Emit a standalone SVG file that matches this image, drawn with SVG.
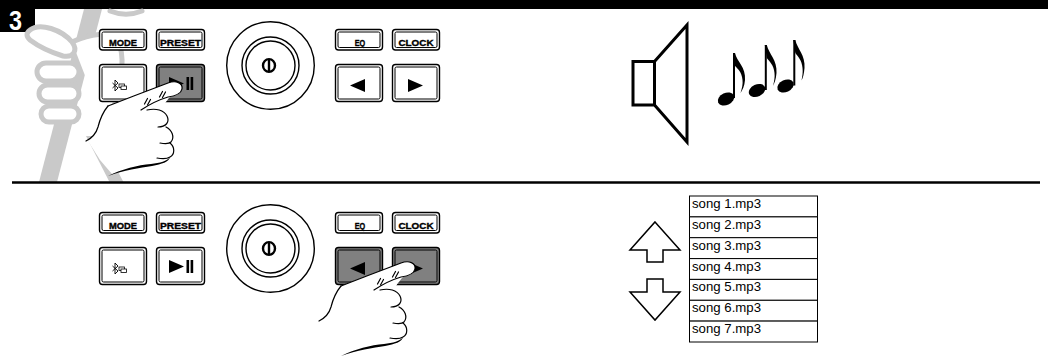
<svg xmlns="http://www.w3.org/2000/svg" xmlns:xlink="http://www.w3.org/1999/xlink" width="1048" height="359" viewBox="0 0 1048 359">
  <style>
    .bo { fill: #fff; stroke: #000; stroke-width: 1.4; }
    .bi { fill: #fff; stroke: #000; stroke-width: 1; }
    .on { fill: #808080; }
    .lbl { font-family: "Liberation Sans", Arial, sans-serif; font-weight: bold; font-size: 8.6px; text-anchor: middle; fill: #000; stroke: #000; stroke-width: 0.35; }
    .ring { fill: none; stroke: #000; stroke-width: 1.4; }
    .row { fill: #fff; stroke: #000; stroke-width: 1; }
    .song { font-family: "Liberation Sans", Arial, sans-serif; font-size: 13.5px; fill: #000; }
    .wm { fill: #fff; stroke: #c9c9c9; stroke-width: 5; stroke-linecap: round; stroke-linejoin: round; }
    .wmf { fill: #c9c9c9; }
    .hand-line { fill: none; stroke: #000; stroke-width: 1.2; stroke-linecap: round; stroke-linejoin: round; }
    .arrow { fill: #fff; stroke: #000; stroke-width: 1.5; stroke-linejoin: miter; }
  </style>
  <defs>
    <!-- pointing hand, drawn with the fingertip at (182,89) -->
    <g id="hand">
      <path fill="#fff" d="M108,106 C125,99 150,90 168,83 C176,80 183,83 182,89 C181,94 176,95 170,97 C168,99 165,103 163,106 C170,112 171,121 166,127 C172,130 175,137 171,142 C175,146 175,153 170,157 C169,162 160,165 150,166 L112,174 L100,160 L88,141 C94,137 97,131 99,124 C102,116 104,110 108,106 Z"/>
      <path class="hand-line" d="M108,106 C126,99 152,89 168,83 C176,80 183,83 182,89 C181,94 175,96 168,97 C158,100 150,104 141,110"/>
      <path class="hand-line" d="M147,110 C156,108 164,110 167,116 C170,122 166,127 158,127"/>
      <path class="hand-line" d="M166,127 C172,130 175,137 171,142 C169,144 165,144 160,143"/>
      <path class="hand-line" d="M170,143 C175,147 175,154 170,157 C167,159 162,159 157,158"/>
      <path fill="#000" d="M170,157 C169,162 162,164 152,166 C140,168 124,170 108,176 C122,169 138,165 151,164 C160,163 167,161 170,157 Z"/>
      <path class="hand-line" d="M108,106 C103,112 100,119 98,127 C96,134 92,138 86,141"/>
      <path class="hand-line" d="M144.5,104 L147.5,98.5 M147.5,105 L150.5,99.5"/>
      <path class="hand-line" d="M159.5,97 L162.5,91.5 M162.5,97.5 L165.5,92"/>
    </g>
  </defs>

  <!-- heading bar and step number -->
  <g id="header">
    <rect x="0" y="0" width="1048" height="9" fill="#000"/>
    <rect x="0" y="0" width="35" height="32" fill="#000"/>
    <text x="15.5" y="30" font-family="Liberation Sans, Arial, sans-serif" font-weight="bold" font-size="27" fill="#fff" text-anchor="middle" textLength="13" lengthAdjust="spacingAndGlyphs">3</text>
  </g>

  <!-- faded fist holding a stick behind the first panel -->
  <g id="watermark">
    <polygon class="wmf" points="84,9 102,9 57,182 39,182"/>
    <polygon class="wmf" points="86,136 99,136 124,183 110,183"/>
    <path class="wm" fill="none" d="M72,42 C90,34 110,30 118,42 C125,54 122,80 116,100 C110,120 103,140 103,152 C103,160 110,161 115,153"/>
    <path class="wm" d="M30,30 C40,22 62,30 72,42 C78,50 74,58 63,56 C50,52 38,46 30,40 C26,36 26,33 30,30 Z"/>
    <rect class="wm" x="37" y="63" width="42" height="18" rx="9"/>
    <rect class="wm" x="39" y="85" width="40" height="17" rx="8.5"/>
    <rect class="wm" x="41" y="106" width="38" height="16" rx="8"/>
    <path class="wm" fill="none" d="M110,11 C120,15 132,15 142,11"/>
  </g>

  <!-- upper panel: play/pause pressed -->
  <g id="panel-top">
    <g id="btn-mode-1">
      <rect class="bo" x="99.5" y="29.5" width="47" height="20.5" rx="3"/>
      <rect class="bi" x="102" y="32" width="42" height="15.5" rx="1.5"/>
      <text class="lbl" x="123" y="46" textLength="28" lengthAdjust="spacingAndGlyphs">MODE</text>
    </g>
    <g id="btn-preset-1">
      <rect class="bo" x="156.5" y="29.5" width="48" height="20.5" rx="3"/>
      <rect class="bi" x="159" y="32" width="43" height="15.5" rx="1.5"/>
      <text class="lbl" x="180.5" y="46" textLength="41" lengthAdjust="spacingAndGlyphs">PRESET</text>
    </g>
    <g id="btn-bt-1">
      <rect class="bo" x="99.5" y="64.5" width="47" height="37" rx="3"/>
      <rect class="bi" x="102" y="67" width="42" height="32" rx="1.5"/>
      <path d="M112.5,83 L118,88 L115,91 L115,80 L118,83 L112.5,88" fill="none" stroke="#000" stroke-width="0.9"/>
      <rect x="119" y="84" width="5.5" height="3.5" fill="#fff" stroke="#000" stroke-width="0.8"/>
      <rect x="121" y="86" width="5.5" height="3.5" fill="#fff" stroke="#000" stroke-width="0.8"/>
    </g>
    <g id="btn-play-1">
      <rect class="bo on" x="156.5" y="64.5" width="48" height="37" rx="3"/>
      <rect class="bi on" x="159" y="67" width="43" height="32" rx="1.5"/>
      <polygon points="169,77 184,83.5 169,90" fill="#000"/>
      <rect x="186.5" y="77" width="2.6" height="13" fill="#000"/>
      <rect x="190.6" y="77" width="2.6" height="13" fill="#000"/>
    </g>
    <g id="knob-1">
      <circle class="ring" cx="270.5" cy="65.5" r="43.8"/>
      <circle class="ring" cx="270.5" cy="65.5" r="28.5" stroke-width="1.6"/>
      <circle class="ring" cx="270.5" cy="65.5" r="24.5" stroke-width="1.6"/>
      <ellipse cx="269" cy="65.5" rx="6" ry="6.4" fill="none" stroke="#000" stroke-width="2.4"/>
      <line x1="269" y1="60" x2="269" y2="71" stroke="#000" stroke-width="2.4"/>
    </g>
    <g id="btn-eq-1">
      <rect class="bo" x="335.5" y="29.5" width="47" height="20.5" rx="3"/>
      <rect class="bi" x="338" y="32" width="42" height="15.5" rx="1.5"/>
      <text class="lbl" x="360" y="46" textLength="10.5" lengthAdjust="spacingAndGlyphs">EQ</text>
    </g>
    <g id="btn-clock-1">
      <rect class="bo" x="392.5" y="29.5" width="47" height="20.5" rx="3"/>
      <rect class="bi" x="395" y="32" width="42" height="15.5" rx="1.5"/>
      <text class="lbl" x="416" y="46" textLength="35" lengthAdjust="spacingAndGlyphs">CLOCK</text>
    </g>
    <g id="btn-prev-1">
      <rect class="bo" x="335.5" y="64.5" width="47" height="37" rx="3"/>
      <rect class="bi" x="338" y="67" width="42" height="32" rx="1.5"/>
      <polygon points="365,79 365,92 350,85.5" fill="#000"/>
    </g>
    <g id="btn-next-1">
      <rect class="bo" x="392.5" y="64.5" width="47" height="37" rx="3"/>
      <rect class="bi" x="395" y="67" width="42" height="32" rx="1.5"/>
      <polygon points="408,79 408,92 423,85.5" fill="#000"/>
    </g>
    <use id="hand-1" xlink:href="#hand"/>
  </g>

  <!-- speaker playing sound -->
  <g id="speaker">
    <path d="M633,61.5 H654.5 V105 H633 Z M654.5,61.5 L687,25 V142 L654.5,105" fill="none" stroke="#000" stroke-width="3" stroke-linejoin="miter"/>
  </g>
  <g id="notes" fill="#000">
    <ellipse cx="726" cy="99" rx="8.6" ry="6" transform="rotate(-25 726 99)"/>
    <rect x="733" y="53" width="2" height="45"/>
    <path d="M733,53 L735,53 C737,62 746,67 745,80 C744.5,86 742.5,90 740.5,93 C742,88 743,84 742.5,80 C742,72 737,68 735,66 Z"/>
    <ellipse cx="757" cy="90.5" rx="8.6" ry="6" transform="rotate(-25 757 90.5)"/>
    <rect x="764.8" y="45" width="2" height="45"/>
    <path d="M764.8,45 L766.8,45 C768.8,54 777.5,60 776.5,73 C776,79 774.5,83 773,86 C774.2,81 775,77 774.5,73 C774,65 769,61 766.8,58 Z"/>
    <ellipse cx="785.5" cy="86" rx="8.6" ry="6" transform="rotate(-25 785.5 86)"/>
    <rect x="793.3" y="40" width="2" height="45.5"/>
    <path d="M793.3,40 L795.3,40 C797.3,49 805.5,55 804.5,68 C804,74 803,77.5 801.5,80.5 C802.5,75.5 803,72 802.5,68 C802,60 797.5,56 795.3,53 Z"/>
  </g>

  <!-- divider between the two steps -->
  <g id="connectors">
    <line x1="12" y1="182.5" x2="1040" y2="182.5" stroke="#000" stroke-width="2.6"/>
  </g>

  <!-- lower panel: track skip buttons pressed -->
  <g id="panel-bottom" transform="translate(0,183)">
    <g id="btn-mode-2">
      <rect class="bo" x="99.5" y="29.5" width="47" height="20.5" rx="3"/>
      <rect class="bi" x="102" y="32" width="42" height="15.5" rx="1.5"/>
      <text class="lbl" x="123" y="46" textLength="28" lengthAdjust="spacingAndGlyphs">MODE</text>
    </g>
    <g id="btn-preset-2">
      <rect class="bo" x="156.5" y="29.5" width="48" height="20.5" rx="3"/>
      <rect class="bi" x="159" y="32" width="43" height="15.5" rx="1.5"/>
      <text class="lbl" x="180.5" y="46" textLength="41" lengthAdjust="spacingAndGlyphs">PRESET</text>
    </g>
    <g id="btn-bt-2">
      <rect class="bo" x="99.5" y="64.5" width="47" height="37" rx="3"/>
      <rect class="bi" x="102" y="67" width="42" height="32" rx="1.5"/>
      <path d="M112.5,83 L118,88 L115,91 L115,80 L118,83 L112.5,88" fill="none" stroke="#000" stroke-width="0.9"/>
      <rect x="119" y="84" width="5.5" height="3.5" fill="#fff" stroke="#000" stroke-width="0.8"/>
      <rect x="121" y="86" width="5.5" height="3.5" fill="#fff" stroke="#000" stroke-width="0.8"/>
    </g>
    <g id="btn-play-2">
      <rect class="bo" x="156.5" y="64.5" width="48" height="37" rx="3"/>
      <rect class="bi" x="159" y="67" width="43" height="32" rx="1.5"/>
      <polygon points="169,77 184,83.5 169,90" fill="#000"/>
      <rect x="186.5" y="77" width="2.6" height="13" fill="#000"/>
      <rect x="190.6" y="77" width="2.6" height="13" fill="#000"/>
    </g>
    <g id="knob-2">
      <circle class="ring" cx="270.5" cy="65.5" r="43.8"/>
      <circle class="ring" cx="270.5" cy="65.5" r="28.5" stroke-width="1.6"/>
      <circle class="ring" cx="270.5" cy="65.5" r="24.5" stroke-width="1.6"/>
      <ellipse cx="269" cy="65.5" rx="6" ry="6.4" fill="none" stroke="#000" stroke-width="2.4"/>
      <line x1="269" y1="60" x2="269" y2="71" stroke="#000" stroke-width="2.4"/>
    </g>
    <g id="btn-eq-2">
      <rect class="bo" x="335.5" y="29.5" width="47" height="20.5" rx="3"/>
      <rect class="bi" x="338" y="32" width="42" height="15.5" rx="1.5"/>
      <text class="lbl" x="360" y="46" textLength="10.5" lengthAdjust="spacingAndGlyphs">EQ</text>
    </g>
    <g id="btn-clock-2">
      <rect class="bo" x="392.5" y="29.5" width="47" height="20.5" rx="3"/>
      <rect class="bi" x="395" y="32" width="42" height="15.5" rx="1.5"/>
      <text class="lbl" x="416" y="46" textLength="35" lengthAdjust="spacingAndGlyphs">CLOCK</text>
    </g>
    <g id="btn-prev-2">
      <rect class="bo on" x="335.5" y="64.5" width="47" height="37" rx="3"/>
      <rect class="bi on" x="338" y="67" width="42" height="32" rx="1.5"/>
      <polygon points="365,79 365,92 350,85.5" fill="#000"/>
    </g>
    <g id="btn-next-2">
      <rect class="bo on" x="392.5" y="64.5" width="47" height="37" rx="3"/>
      <rect class="bi on" x="395" y="67" width="42" height="32" rx="1.5"/>
      <polygon points="408,79 408,92 423,85.5" fill="#000"/>
    </g>
    <use id="hand-2" xlink:href="#hand" transform="translate(233,-3)"/>
  </g>

  <!-- scroll arrows -->
  <g id="arrow-up">
    <polygon class="arrow" points="655,222 680,250 663,250 663,262 647,262 647,250 630,250"/>
  </g>
  <g id="arrow-down">
    <polygon class="arrow" points="647,279 663,279 663,292 680,292 655,320 630,292 647,292"/>
  </g>

  <!-- track list -->
  <g id="song-list">
    <rect class="row" x="689.5" y="196" width="128" height="20.9"/>
    <rect class="row" x="689.5" y="216.9" width="128" height="20.8"/>
    <rect class="row" x="689.5" y="237.7" width="128" height="20.9"/>
    <rect class="row" x="689.5" y="258.6" width="128" height="20.8"/>
    <rect class="row" x="689.5" y="279.4" width="128" height="20.9"/>
    <rect class="row" x="689.5" y="300.3" width="128" height="20.8"/>
    <rect class="row" x="689.5" y="321.1" width="128" height="20.9"/>
    <text class="song" x="692" y="208" textLength="69" lengthAdjust="spacingAndGlyphs">song 1.mp3</text>
    <text class="song" x="692" y="228.9" textLength="69" lengthAdjust="spacingAndGlyphs">song 2.mp3</text>
    <text class="song" x="692" y="249.7" textLength="69" lengthAdjust="spacingAndGlyphs">song 3.mp3</text>
    <text class="song" x="692" y="270.6" textLength="69" lengthAdjust="spacingAndGlyphs">song 4.mp3</text>
    <text class="song" x="692" y="291.4" textLength="69" lengthAdjust="spacingAndGlyphs">song 5.mp3</text>
    <text class="song" x="692" y="312.3" textLength="69" lengthAdjust="spacingAndGlyphs">song 6.mp3</text>
    <text class="song" x="692" y="333.1" textLength="69" lengthAdjust="spacingAndGlyphs">song 7.mp3</text>
  </g>
</svg>
